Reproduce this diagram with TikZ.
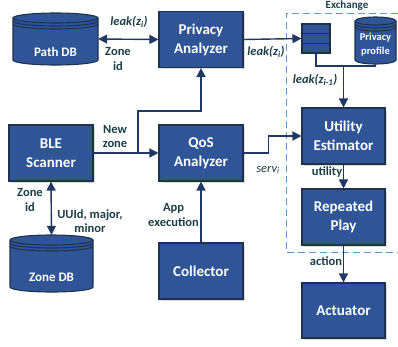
\documentclass[tikz,border=0pt]{standalone}
\usepackage{fontspec}
\setmainfont{Carlito}
\usetikzlibrary{arrows.meta,calc,shadows}
\definecolor{boxblue}{RGB}{47,85,151}
\definecolor{boxedge}{RGB}{30,50,80}
\definecolor{linkblue}{RGB}{32,56,100}
\definecolor{labelteal}{RGB}{28,62,72}
\definecolor{dashblue}{RGB}{91,155,213}
% database drum: name, cx, cy, half width, half height, ry, text shift, font size, text
\newcommand{\dbcyl}[9]{%
\draw[dbbody] ({#2-#4},{#3+#5-#6}) -- ({#2-#4},{#3-#5+#6}) arc[start angle=180,end angle=360,x radius=#4,y radius=#6] -- ({#2+#4},{#3+#5-#6}) arc[start angle=0,end angle=180,x radius=#4,y radius=#6] -- cycle;
\draw[dbring] ({#2-#4},{#3+#5-#6}) arc[start angle=180,end angle=360,x radius=#4,y radius=#6];
\draw[dbring] ({#2-#4},{#3+#5-#6-3}) arc[start angle=180,end angle=360,x radius=#4,y radius=#6];
\draw[dbring] ({#2-#4},{#3+#5-#6-6}) arc[start angle=180,end angle=360,x radius=#4,y radius=#6];
\node[minimum width=2*#4,minimum height=2*#5,inner sep=0pt] (#1) at (#2,#3) {};
\node[dbtext=#8] (#1-txt) at ($(#1.center)+(0,-#7)$) {#9};
}
\begin{document}
\begin{tikzpicture}[x=1pt,y=1pt,
  box/.style={draw=boxedge,line width=1.1pt,fill=boxblue,text=white,minimum width=84pt,minimum height=56pt,align=center,inner sep=2pt,font=\fontsize{15}{19}\selectfont\bfseries,drop shadow={shadow xshift=1.5pt,shadow yshift=-1.5pt,opacity=.3}},
  dbbody/.style={draw=boxedge,line width=1.1pt,fill=boxblue},
  dbring/.style={draw=boxedge,line width=1.1pt},
  dbtext/.style={text=white,align=center,inner sep=0pt,font=\fontsize{#1}{14}\selectfont\bfseries},
  link/.style={linkblue,line width=1.4pt},
  arrow/.style={link,-{Triangle[length=9pt,width=9pt]}},
  twoway/.style={link,{Triangle[length=9pt,width=9pt]}-{Triangle[length=9pt,width=9pt]}},
  lbl/.style={text=labelteal,align=center,inner sep=0pt,font=\fontsize{12.5}{14.5}\selectfont\bfseries},
]
\useasboundingbox (0,0) rectangle (398,-346);

% exchange frame
\draw[dashblue,line width=1pt,dash pattern=on 7pt off 4pt] (398,-13) -- (286,-13) -- (286,-252) -- (398,-252);
\node[lbl,font=\fontsize{11}{13}\selectfont\bfseries] (exch) at (347,-6) {Exchange};

% databases
\dbcyl{pathdb}{55.5}{-39}{42.5}{26}{5}{13}{13}{Path DB}
\dbcyl{zonedb}{51.5}{-263.5}{41.5}{28.5}{5}{13.5}{13}{Zone DB}
\dbcyl{profile}{375.5}{-40.5}{20.5}{23.5}{4}{4.5}{10.5}{Privacy\\profile}

% blocks
\node[box] (privacy) at (201,-39.5) {Privacy\\Analyzer};
\node[box] (ble) at (51,-153) {BLE\\Scanner};
\node[box] (qos) at (201,-153) {QoS\\Analyzer};
\node[box] (collector) at (201,-271) {Collector};
\node[box,minimum width=83pt] (utility) at (343.5,-136) {Utility\\Estimator};
\node[box,minimum width=83pt] (repeated) at (343.5,-217) {Repeated\\Play};
\node[box,minimum width=83pt,minimum height=55pt] (actuator) at (343.5,-310.5) {Actuator};
\node[draw=boxedge,line width=1.1pt,fill=boxblue,minimum width=28pt,minimum height=29pt,inner sep=0pt] (queue) at (316,-38.5) {};
\draw[dbring] ($(queue.north west)!1/3!(queue.south west)$) -- ($(queue.north east)!1/3!(queue.south east)$);
\draw[dbring] ($(queue.north west)!2/3!(queue.south west)$) -- ($(queue.north east)!2/3!(queue.south east)$);

% connectors
\draw[twoway] (pathdb.east) -- (privacy.west);
\node[lbl] (leakpath) at (129,-22) {\itshape leak(z\textsubscript{i})};
\node[lbl] (zoneid) at (118,-59) {Zone\\id};
\draw[arrow] (privacy.east) -- (queue.west);
\node[lbl] (leakq) at (266,-52) {\itshape leak(z\textsubscript{i})};
\coordinate (merge) at (343.5,-66);
\draw[link] (queue.south) |- (merge) -| (profile.south);
\draw[arrow] (merge) -- (utility.north);
\node[lbl] (leakprev) at (315,-80) {\itshape leak(z\textsubscript{i-1})};
\draw[arrow] (ble.east) -- (qos.west);
\coordinate (split) at (138,-153);
\draw[arrow] (split) |- ([yshift=-43pt]privacy.south) -- (privacy.south);
\node[lbl] (newzone) at (115,-136.5) {New\\zone};
\draw[arrow] (qos.east) -- ++(25,0) |- (utility.west);
\node[lbl,font=\fontsize{12.5}{14.5}\selectfont] (serv) at (268,-170) {\itshape serv\textsubscript{i}};
\draw[arrow] (collector.north) -- (qos.south);
\node[lbl] (appexec) at (173.5,-215) {App\\execution};
\draw[twoway] (ble.south) -- (zonedb.north);
\node[lbl] (zoneid2) at (30,-200) {Zone\\id};
\node[lbl] (uuid) at (90,-221) {UUId, major,\\minor};
\draw[arrow] (utility.south) -- (repeated.north);
\node[lbl] (utillbl) at (327,-172) {utility};
\draw[arrow] (repeated.south) -- (actuator.north);
\node[lbl] (actlbl) at (326,-261) {action};
\end{tikzpicture}
\end{document}
